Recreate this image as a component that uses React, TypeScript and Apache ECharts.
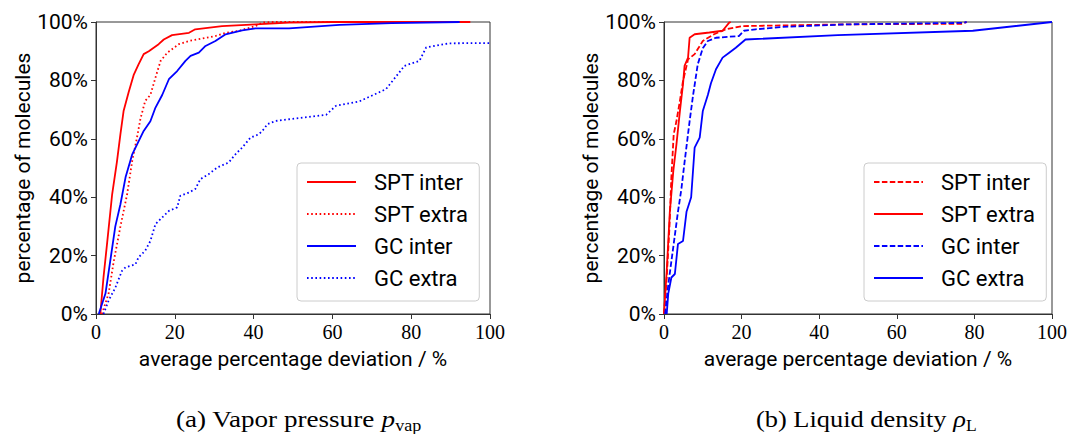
import React, { useEffect, useRef } from "react";
import * as echarts from "echarts";

type P = [number, number];

// (a) Vapor pressure
const vapSptInter: P[] = [[1.1,0],[1.9,12.5],[2.8,24],[4.1,41],[5.3,52],[6.2,61.6],[7.0,69.5],[8.3,76],[9.6,82],[10.8,85.5],[12.1,89],[13.4,90],[15.9,92.4],[17.2,94],[19.3,95.5],[23.6,96.3],[25.2,97.5],[32,98.6],[40.5,99.2],[49,99.8],[60,100],[95,100]];
const vapSptExtra: P[] = [[1.5,0],[3.2,7],[4.5,18],[6.2,30],[7.9,41],[9.2,52.5],[10.4,60.4],[11.3,67],[12.5,73],[13.8,75],[15.1,81],[16.4,86.7],[18.1,89.5],[21,92.4],[23.6,93.5],[30.3,95.2],[32.9,96.3],[36.3,97],[40.5,98.6],[42.2,99.8],[45,100],[60,100]];
const vapGcInter: P[] = [[0.7,0],[2.4,7],[3.6,18],[4.9,30],[6.2,37.6],[7.5,46.8],[9.2,54.7],[10.4,58],[12.1,62.7],[13.8,66],[15.1,70.7],[16.8,75],[18.5,80.4],[20.6,83.2],[22.7,86.7],[24,88.4],[26.1,89.5],[27.8,91.8],[30.3,93.5],[32.9,95.8],[37.1,97.1],[40.5,97.8],[49,97.8],[61.8,99],[75,99.6],[92.3,100]];
const vapGcExtra: P[] = [[1.9,0],[3.2,4.6],[4.9,9],[6.6,14.8],[7.5,16],[10,17],[10.8,19.4],[12.5,21.7],[13.8,25],[15.1,30.8],[17.2,33.6],[18.5,35.3],[20.6,36.5],[21.4,40.5],[23.6,41.6],[25.2,42.8],[26.5,46.2],[28.6,47.9],[30.8,50.2],[33.7,51.9],[35.4,54.7],[37.1,57],[39.2,60.4],[41.4,61.6],[42.6,63.3],[43.5,65],[45.6,66.1],[49,66.7],[58.4,68.2],[60.9,71.3],[66.8,72.8],[73.6,77],[78.3,85],[82.1,86.7],[83.8,91.3],[89.7,92.7],[100,92.8]];

// (b) Liquid density
const denSptInter: P[] = [[0,0],[0.7,12.5],[1.4,29.6],[1.9,46.8],[2.5,61.6],[3.2,66],[4.1,73],[4.9,79.8],[6.2,87.2],[7.9,89],[10,93.5],[12.9,95.8],[15.9,97.5],[20.2,98.6],[47.3,99.2],[77,99.4],[78,100]];
const denSptExtra: P[] = [[0,0],[0.7,14.8],[1.5,35],[2.4,49],[3.2,58],[4.1,69.5],[4.9,78.7],[5.3,85],[6.2,87.8],[6.6,94.6],[7.9,95.8],[11.7,96.4],[15.1,97],[16.8,99.8],[17.2,100]];
const denGcInter: P[] = [[0.3,0],[1.1,10],[1.9,18],[2.8,27],[3.6,35],[4.5,43],[5.3,52],[6.6,66],[7.5,75],[8.7,85.5],[10,91],[11.3,93.5],[13.4,94.6],[19.3,95.2],[20.6,97],[23.6,97.5],[30.3,98.3],[47.3,99.2],[77,99.7],[78,100]];
const denGcExtra: P[] = [[0.7,0],[1.1,7],[1.9,12.5],[2.8,13.7],[3.6,24],[4.9,25],[5.8,35],[7,40],[7.9,57],[9.2,60.4],[10,69.5],[11.3,75],[12.1,79],[13.4,83.8],[15.1,87.8],[16.8,89.5],[18.5,91.2],[21,94],[44.8,95.5],[79.6,97],[100,100]];

const legendNames = ["SPT inter", "SPT extra", "GC inter", "GC extra"];
const xName = "average percentage deviation / %";
const yName = "percentage of molecules";

const RED = "#ff0000";
const BLUE = "#0000ff";
const SANS = "Roboto";
const SERIF = "Liberation Serif";
const DOT = [1.6, 2.6];
const DASH = [5.5, 2.4];

export default function App() {
  const ref = useRef<HTMLDivElement>(null);
  useEffect(() => {
    document.body.style.margin = "0";
    const chart = echarts.init(ref.current!, undefined, { renderer: "svg" });

    const mkX = (gi: number) => ({
      type: "value", gridIndex: gi, min: 0, max: 100, interval: 20,
      axisLine: { show: true, lineStyle: { color: "#333", width: 1 } },
      axisTick: { show: true, length: 5, lineStyle: { color: "#333" } },
      splitLine: { show: false },
      axisLabel: { fontFamily: SERIF, fontSize: 20, color: "#000", margin: 8 },
      name: xName, nameLocation: "middle", nameGap: 34,
      nameTextStyle: { fontFamily: SANS, fontSize: 21, color: "#000" },
    });
    const mkY = (gi: number) => ({
      type: "value", gridIndex: gi, min: 0, max: 100, interval: 20,
      axisLine: { show: true, lineStyle: { color: "#333", width: 1 } },
      axisTick: { show: true, length: 5, lineStyle: { color: "#333" } },
      splitLine: { show: false },
      axisLabel: { fontFamily: SANS, fontSize: 21, color: "#000", margin: 8, formatter: "{value}%" },
      name: yName, nameLocation: "middle", nameGap: 40,
      nameTextStyle: { fontFamily: SANS, fontSize: 21, color: "#000" },
    });
    const mkS = (name: string, gi: number, data: P[], color: string, type: any) => ({
      type: "line", name, xAxisIndex: gi, yAxisIndex: gi, data,
      symbol: "none", showSymbol: false,
      lineStyle: { color, width: 1.8, type },
      itemStyle: { color },
      z: 3,
    });
    const mkLegend = (prefix: string, left: number) => ({
      orient: "vertical", left, top: 163,
      data: legendNames.map((n) => prefix + n),
      formatter: (n: string) => n.slice(prefix.length),
      itemWidth: 49, itemHeight: 14, itemGap: 10,
      padding: [8, 11, 12, 9],
      backgroundColor: "rgba(255,255,255,0.8)",
      borderColor: "#cccccc", borderWidth: 1, borderRadius: 4,
      itemStyle: { opacity: 0 },
      textStyle: { fontFamily: SANS, fontSize: 22, lineHeight: 20, color: "#000", padding: [0, 0, 0, 13] },
      selectedMode: false,
    });

    const capRich = {
      n: { fontFamily: SERIF, fontSize: 24, color: "#000", lineHeight: 30, verticalAlign: "middle" },
      i: { fontFamily: SERIF, fontSize: 24, fontStyle: "italic", color: "#000", lineHeight: 30, verticalAlign: "middle" },
      s: { fontFamily: SERIF, fontSize: 16, color: "#000", lineHeight: 16, verticalAlign: "bottom" },
    };

    chart.setOption({
      animation: false,
      backgroundColor: "#fff",
      grid: [
        { left: 96, top: 22, width: 394, height: 292, show: true, borderColor: "#333", borderWidth: 1, backgroundColor: "transparent" },
        { left: 664, top: 22, width: 393, height: 292, show: true, borderColor: "#333", borderWidth: 1, backgroundColor: "transparent" },
      ],
      xAxis: [mkX(0), mkX(1)],
      yAxis: [mkY(0), mkY(1)],
      legend: [mkLegend("a:", 297), mkLegend("b:", 864)],
      series: [
        mkS("a:SPT inter", 0, vapSptInter, RED, "solid"),
        mkS("a:SPT extra", 0, vapSptExtra, RED, DOT),
        mkS("a:GC inter", 0, vapGcInter, BLUE, "solid"),
        mkS("a:GC extra", 0, vapGcExtra, BLUE, DOT),
        mkS("b:SPT inter", 1, denSptInter, RED, DASH),
        mkS("b:SPT extra", 1, denSptExtra, RED, "solid"),
        mkS("b:GC inter", 1, denGcInter, BLUE, DASH),
        mkS("b:GC extra", 1, denGcExtra, BLUE, "solid"),
      ],
      graphic: [
        {
          type: "text", x: 176, y: 404, scaleX: 1.13,
          style: { text: "{n|(a) Vapor pressure }{i|p}{s|vap}", rich: capRich },
        },
        {
          type: "text", x: 756, y: 404, scaleX: 1.1,
          style: { text: "{n|(b) Liquid density }{i|ρ}{s|L}", rich: capRich },
        },
      ],
    });
    return () => chart.dispose();
  }, []);
  return <div ref={ref} style={{ width: 1070, height: 434 }} />;
}
